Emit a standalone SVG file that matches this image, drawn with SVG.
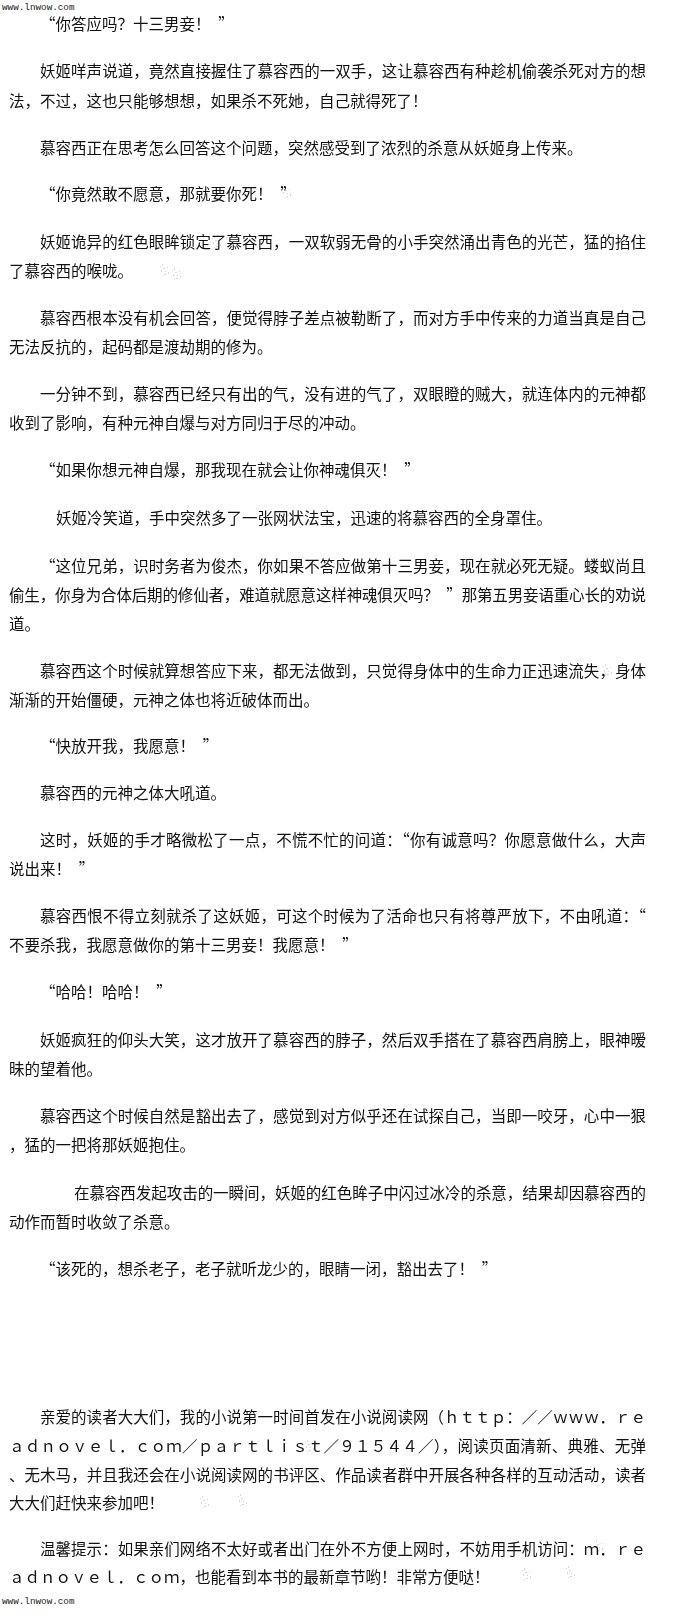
<svg xmlns="http://www.w3.org/2000/svg" width="680" height="1613" viewBox="0 0 680 1613">
<style>
text{font-family:"Noto Sans CJK SC","Noto Sans CJK JP",sans-serif;font-size:15.5px;fill:#111;}
.wm{font-family:"Liberation Mono","DejaVu Sans Mono",monospace;font-size:9.3px;fill:#222;}
.q{font-feature-settings:"fwid" 1;}
.sp{fill:#b8b8b8;opacity:.55;}
</style>
<defs>
<g id="speck">
<rect x="0" y="2" width="1" height="1"/><rect x="2" y="0" width="1" height="2"/><rect x="3" y="4" width="2" height="1"/>
<rect x="1" y="6" width="1" height="2"/><rect x="5" y="7" width="1" height="1"/><rect x="4" y="10" width="2" height="1"/>
<rect x="7" y="3" width="1" height="1"/><rect x="8" y="8" width="1" height="2"/><rect x="2" y="11" width="1" height="1"/>
</g>
</defs>
<rect width="680" height="1613" fill="#fff"/>
<g id="watermarks">
<text class="wm" x="2" y="10">www.lnwow.com</text>
<text class="wm" x="2" y="1604">www.lnwow.com</text>
</g>
<g id="specks" class="sp">
<use href="#speck" x="282" y="186"/>
<use href="#speck" x="212" y="236"/>
<use href="#speck" x="160" y="264"/>
<use href="#speck" x="172" y="268"/>
<use href="#speck" x="478" y="314"/>
<use href="#speck" x="322" y="563"/>
<use href="#speck" x="603" y="664"/>
<use href="#speck" x="305" y="1440"/>
<use href="#speck" x="200" y="1496"/>
<use href="#speck" x="238" y="1494"/>
<use href="#speck" x="594" y="1540"/>
<use href="#speck" x="522" y="1568"/>
<use href="#speck" x="566" y="1566"/>
</g>
<g id="p1"><text x="40" y="30"><tspan class="q">“</tspan>你答应吗？十三男妾！&#8194;<tspan class="q">”</tspan></text></g>
<g id="p2">
<text x="40" y="77" textLength="606" lengthAdjust="spacing">妖姬咩声说道，竟然直接握住了慕容西的一双手，这让慕容西有种趁机偷袭杀死对方的想</text>
<text x="9" y="107">法，不过，这也只能够想想，如果杀不死她，自己就得死了！</text>
</g>
<g id="p3"><text x="40" y="154">慕容西正在思考怎么回答这个问题，突然感受到了浓烈的杀意从妖姬身上传来。</text></g>
<g id="p4"><text x="40" y="200"><tspan class="q">“</tspan>你竟然敢不愿意，那就要你死！&#8194;<tspan class="q">”</tspan></text></g>
<g id="p5">
<text x="40" y="248" textLength="606" lengthAdjust="spacing">妖姬诡异的红色眼眸锁定了慕容西，一双软弱无骨的小手突然涌出青色的光芒，猛的掐住</text>
<text x="9" y="277">了慕容西的喉咙。</text>
</g>
<g id="p6">
<text x="40" y="324" textLength="606" lengthAdjust="spacing">慕容西根本没有机会回答，便觉得脖子差点被勒断了，而对方手中传来的力道当真是自己</text>
<text x="9" y="353">无法反抗的，起码都是渡劫期的修为。</text>
</g>
<g id="p7">
<text x="40" y="400" textLength="606" lengthAdjust="spacing">一分钟不到，慕容西已经只有出的气，没有进的气了，双眼瞪的贼大，就连体内的元神都</text>
<text x="9" y="429">收到了影响，有种元神自爆与对方同归于尽的冲动。</text>
</g>
<g id="p8"><text x="40" y="476"><tspan class="q">“</tspan>如果你想元神自爆，那我现在就会让你神魂俱灭！&#8194;<tspan class="q">”</tspan></text></g>
<g id="p9"><text x="56" y="524">妖姬冷笑道，手中突然多了一张网状法宝，迅速的将慕容西的全身罩住。</text></g>
<g id="p10">
<text x="40" y="572" textLength="606" lengthAdjust="spacing"><tspan class="q">“</tspan>这位兄弟，识时务者为俊杰，你如果不答应做第十三男妾，现在就必死无疑。蝼蚁尚且</text>
<text x="9" y="601" textLength="637" lengthAdjust="spacing">偷生，你身为合体后期的修仙者，难道就愿意这样神魂俱灭吗？&#8194;<tspan class="q">”</tspan>那第五男妾语重心长的劝说</text>
<text x="9" y="630">道。</text>
</g>
<g id="p11">
<text x="40" y="677" textLength="606" lengthAdjust="spacing">慕容西这个时候就算想答应下来，都无法做到，只觉得身体中的生命力正迅速流失，身体</text>
<text x="9" y="706">渐渐的开始僵硬，元神之体也将近破体而出。</text>
</g>
<g id="p12"><text x="40" y="752"><tspan class="q">“</tspan>快放开我，我愿意！&#8194;<tspan class="q">”</tspan></text></g>
<g id="p13"><text x="40" y="799">慕容西的元神之体大吼道。</text></g>
<g id="p14">
<text x="40" y="846" textLength="606" lengthAdjust="spacing">这时，妖姬的手才略微松了一点，不慌不忙的问道：<tspan class="q">“</tspan>你有诚意吗？你愿意做什么，大声</text>
<text x="9" y="875">说出来！&#8194;<tspan class="q">”</tspan></text>
</g>
<g id="p15">
<text x="40" y="922" textLength="606" lengthAdjust="spacing">慕容西恨不得立刻就杀了这妖姬，可这个时候为了活命也只有将尊严放下，不由吼道：<tspan class="q">“</tspan></text>
<text x="9" y="951">不要杀我，我愿意做你的第十三男妾！我愿意！&#8194;<tspan class="q">”</tspan></text>
</g>
<g id="p16"><text x="40" y="998"><tspan class="q">“</tspan>哈哈！哈哈！&#8194;<tspan class="q">”</tspan></text></g>
<g id="p17">
<text x="40" y="1046" textLength="606" lengthAdjust="spacing">妖姬疯狂的仰头大笑，这才放开了慕容西的脖子，然后双手搭在了慕容西肩膀上，眼神暧</text>
<text x="9" y="1075">昧的望着他。</text>
</g>
<g id="p18">
<text x="40" y="1122" textLength="606" lengthAdjust="spacing">慕容西这个时候自然是豁出去了，感觉到对方似乎还在试探自己，当即一咬牙，心中一狠</text>
<text x="9" y="1151">，猛的一把将那妖姬抱住。</text>
</g>
<g id="p19">
<text x="74" y="1199" textLength="572" lengthAdjust="spacing">在慕容西发起攻击的一瞬间，妖姬的红色眸子中闪过冰冷的杀意，结果却因慕容西的</text>
<text x="9" y="1228">动作而暂时收敛了杀意。</text>
</g>
<g id="p20"><text x="40" y="1275"><tspan class="q">“</tspan>该死的，想杀老子，老子就听龙少的，眼睛一闭，豁出去了！&#8194;<tspan class="q">”</tspan></text></g>
<g id="p21">
<text x="40" y="1423" textLength="606" lengthAdjust="spacing">亲爱的读者大大们，我的小说第一时间首发在小说阅读网（ｈｔｔｐ：／／ｗｗｗ．ｒｅ</text>
<text x="9" y="1452" textLength="637" lengthAdjust="spacing">ａｄｎｏｖｅｌ．ｃｏｍ／ｐａｒｔｌｉｓｔ／９１５４４／），阅读页面清新、典雅、无弹</text>
<text x="9" y="1481" textLength="637" lengthAdjust="spacing">、无木马，并且我还会在小说阅读网的书评区、作品读者群中开展各种各样的互动活动，读者</text>
<text x="9" y="1509">大大们赶快来参加吧！</text>
</g>
<g id="p22">
<text x="40" y="1555" textLength="606" lengthAdjust="spacing">温馨提示：如果亲们网络不太好或者出门在外不方便上网时，不妨用手机访问：ｍ．ｒｅ</text>
<text x="9" y="1583">ａｄｎｏｖｅｌ．ｃｏｍ，也能看到本书的最新章节哟！非常方便哒！</text>
</g>
</svg>
